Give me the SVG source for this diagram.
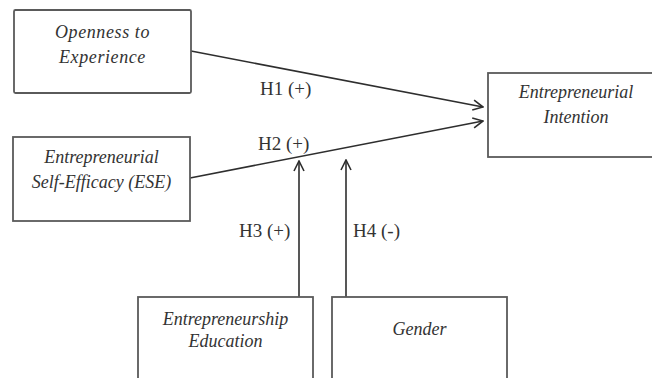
<svg xmlns="http://www.w3.org/2000/svg" width="652" height="378" viewBox="0 0 652 378">
  <style>
    .box { fill: #ffffff; stroke: #5a5a5a; stroke-width: 1.8; }
    .node-text { font-family: "Liberation Serif", "Times New Roman", serif; font-style: italic; font-size: 18px; fill: #333333; text-anchor: middle; }
    .label { font-family: "Liberation Serif", "Times New Roman", serif; font-size: 19px; fill: #333333; }
    .link { fill: none; stroke: #2e2e2e; stroke-width: 1.6; marker-end: url(#chevron); }
  </style>
  <defs>
    <marker id="chevron" viewBox="0 0 12 12" refX="11" refY="6" markerWidth="12" markerHeight="12" markerUnits="userSpaceOnUse" orient="auto">
      <path d="M1,1 L11,6 L1,11" fill="none" stroke="#2e2e2e" stroke-width="1.6"/>
    </marker>
  </defs>
  <rect width="652" height="378" fill="#ffffff"/>

  <g id="connectors">
    <line class="link" x1="191" y1="51" x2="483" y2="107"/>
    <line class="link" x1="190" y1="178" x2="483" y2="121"/>
    <line class="link" x1="299" y1="297" x2="299" y2="161"/>
    <line class="link" x1="346" y1="297" x2="346" y2="160"/>
    <text class="label" x="260" y="95">H1 (+)</text>
    <text class="label" x="258" y="150">H2 (+)</text>
    <text class="label" x="239" y="237">H3 (+)</text>
    <text class="label" x="353" y="237">H4 (-)</text>
  </g>

  <g id="openness">
    <rect class="box" x="14" y="10" width="177" height="83" rx="1.5"/>
    <text class="node-text" x="102.5" y="38" letter-spacing="0.6">Openness to</text>
    <text class="node-text" x="102.5" y="63" letter-spacing="0.6">Experience</text>
  </g>

  <g id="ese">
    <rect class="box" x="13" y="137" width="177" height="84"/>
    <text class="node-text" x="101.5" y="163">Entrepreneurial</text>
    <text class="node-text" x="101.5" y="188">Self-Efficacy (ESE)</text>
  </g>

  <g id="intention">
    <rect class="box" x="488" y="73" width="176" height="84"/>
    <text class="node-text" x="576" y="98">Entrepreneurial</text>
    <text class="node-text" x="576" y="123">Intention</text>
  </g>

  <g id="education">
    <rect class="box" x="138" y="297" width="175" height="95"/>
    <text class="node-text" x="225.5" y="325">Entrepreneurship</text>
    <text class="node-text" x="225.5" y="347">Education</text>
  </g>

  <g id="gender">
    <rect class="box" x="332" y="297" width="175" height="95"/>
    <text class="node-text" x="419.5" y="335">Gender</text>
  </g>
</svg>
